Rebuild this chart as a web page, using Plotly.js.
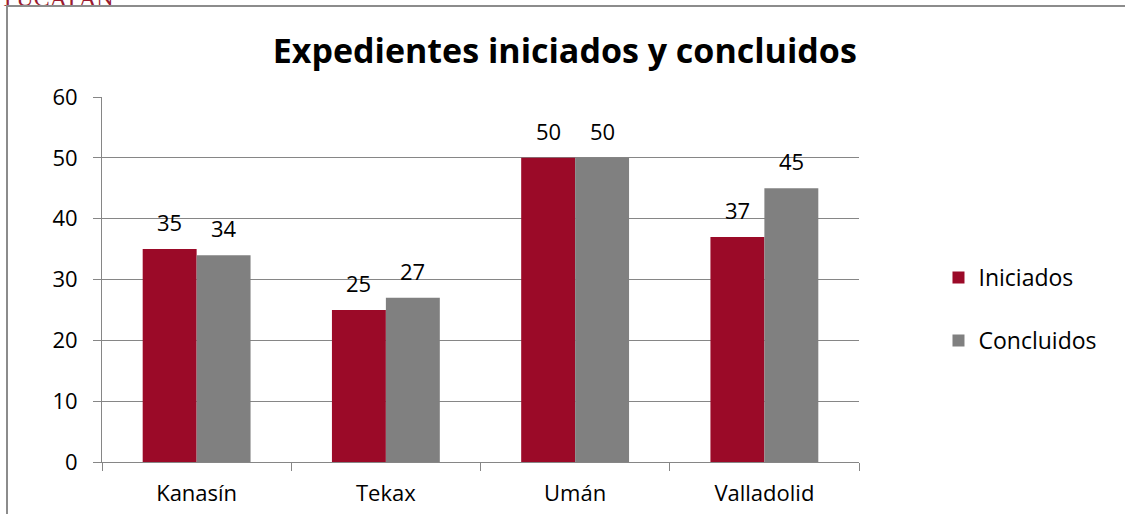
<!DOCTYPE html>
<html>
<head>
<meta charset="utf-8">
<script src="https://cdn.plot.ly/plotly-3.0.1.min.js"></script>
<style>
  html, body { margin: 0; padding: 0; background: #fff; }
  #wrap { position: relative; width: 1125px; height: 514px; overflow: hidden; }
  #frame { position: absolute; left: 6px; top: 5px; width: 1200px; height: 600px;
           border-left: 2px solid #8c8c8c; border-top: 2px solid #8c8c8c; pointer-events: none; }
  #chart { position: absolute; left: 0; top: 0; width: 1125px; height: 514px; }
</style>
</head>
<body>
<div id="wrap">
  <div id="chart"></div>
  <div id="frame"></div>
</div>
<script>
const categories = ["Kanasín", "Tekax", "Umán", "Valladolid"];
const iniciados = [35, 25, 50, 37];
const concluidos = [34, 27, 50, 45];
const seriesNames = ["Iniciados", "Concluidos"];
const yTicks = [0, 10, 20, 30, 40, 50, 60];

const FONT = "'Open Sans', sans-serif";
const red = "#9B0A28";
const grey = "#808080";

const traces = [
  { type: "bar", name: seriesNames[0], x: categories, y: iniciados, marker: { color: red },
    legendgroup: "a", hoverinfo: "none" },
  { type: "bar", name: seriesNames[1], x: categories, y: concluidos, marker: { color: grey },
    legendgroup: "b", hoverinfo: "none" }
];

const labelAnn = [];
categories.forEach((c, i) => {
  [[iniciados, -27], [concluidos, 27]].forEach(([arr, dx]) => {
    labelAnn.push({ x: c, y: arr[i], xref: "x", yref: "y", text: String(arr[i]),
      showarrow: false, xshift: dx, yshift: 27, xanchor: "center", yanchor: "middle",
      font: { family: FONT, size: 22, color: "#000" } });
  });
});

const layout = {
  width: 1125, height: 514,
  margin: { l: 102, r: 266, t: 97, b: 52 },
  paper_bgcolor: "rgba(0,0,0,0)", plot_bgcolor: "rgba(0,0,0,0)",
  font: { family: FONT, size: 22, color: "#000" },
  title: { text: "<b>Expedientes iniciados y concluidos</b>", x: 0.502, xref: "container",
           xanchor: "center", y: 0.9, yref: "container", yanchor: "middle",
           font: { family: FONT, size: 34, color: "#000" } },
  barmode: "group", bargap: 0.43, bargroupgap: 0,
  showlegend: true,
  legend: { x: 1.105, xanchor: "left", y: 0.419, yanchor: "middle",
            traceorder: "grouped", tracegroupgap: 30,
            font: { family: FONT, size: 23, color: "#000" }, itemwidth: 30 },
  xaxis: { type: "category", showline: true, linecolor: "#868686", linewidth: 1,
           ticks: "outside", ticklen: 8, tickcolor: "#868686", tickson: "boundaries",
           tickfont: { family: FONT, size: 22 }, ticklabelstandoff: 12,
           showgrid: false, zeroline: false, fixedrange: true },
  yaxis: { range: [0, 60], tickvals: yTicks, ticktext: yTicks.map(String),
           showline: true, linecolor: "#868686", linewidth: 1,
           ticks: "outside", ticklen: 8, tickcolor: "#868686",
           showgrid: true, gridcolor: "#868686", gridwidth: 1, zeroline: false,
           tickfont: { family: FONT, size: 22 }, ticklabelstandoff: 11, fixedrange: true },
  annotations: labelAnn.concat([
    { text: "YUCATÁN", xref: "paper", yref: "paper", x: -0.139, y: (462 - 13) / 365,
      xanchor: "left", yanchor: "bottom", showarrow: false,
      font: { family: "'Liberation Serif', serif", size: 24, color: "#9B1B30" } }
  ])
};

Plotly.newPlot("chart", traces, layout, { displayModeBar: false, staticPlot: true });
</script>
</body>
</html>
